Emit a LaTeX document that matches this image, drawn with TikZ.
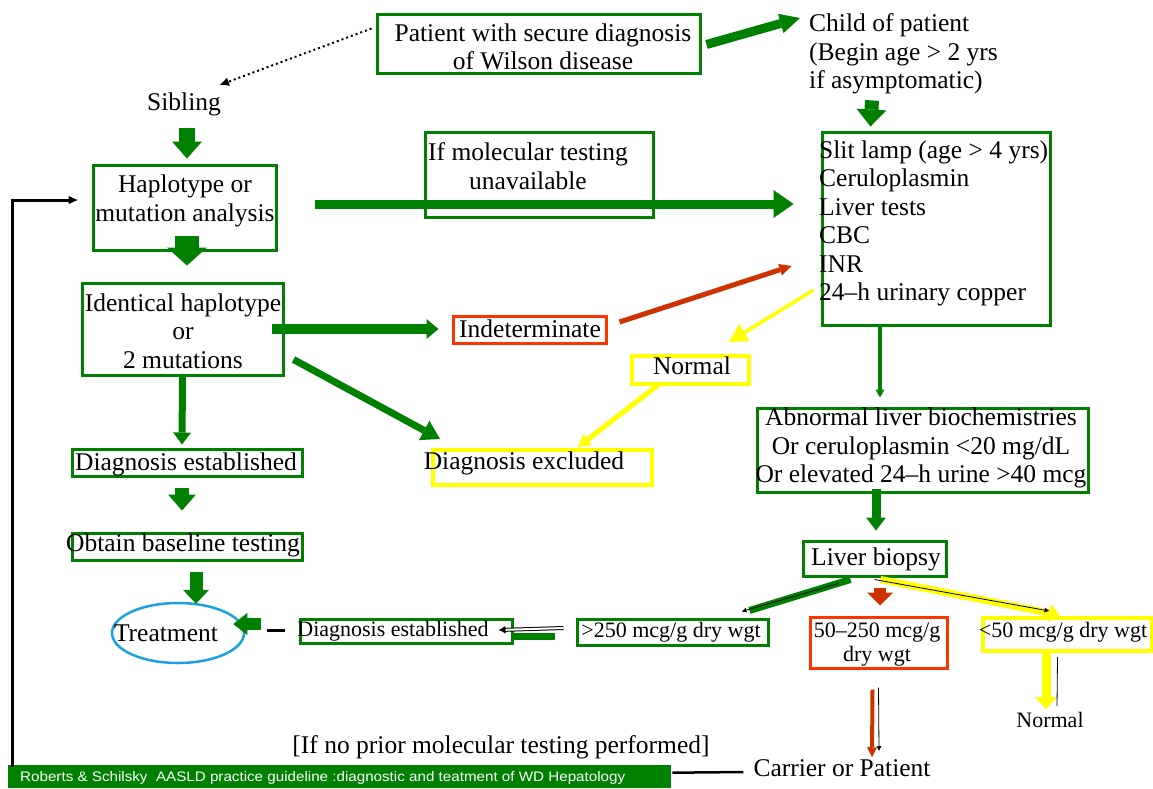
\documentclass[tikz,border=0pt]{standalone}
\usepackage{fontspec}
\usepackage{graphicx}
\setmainfont{Liberation Serif}
\setsansfont{Liberation Sans}
\usetikzlibrary{arrows.meta,calc,shapes.geometric}
\definecolor{wgreen}{RGB}{0,128,0}
\definecolor{wred}{RGB}{204,51,0}
\definecolor{wored}{RGB}{255,51,0}
\definecolor{wyellow}{RGB}{255,255,0}
\definecolor{wcyan}{RGB}{27,161,226}
\newcommand\bigtxt{\fontsize{25.5pt}{28.5pt}\selectfont}
\newcommand\midtxt{\fontsize{22pt}{24pt}\selectfont}
\begin{document}
\begin{tikzpicture}[x=1pt,y=-1pt,
  box/.style n args={3}{draw=#1, line width=3pt, minimum width=#2, minimum height=#3, inner sep=0pt},
  txt/.style={font=\bigtxt, inner sep=0pt},
  stxt/.style={font=\midtxt, inner sep=0pt},
  blockarrow/.style n args={3}{line width=#1, -{Triangle[width=#2,length=#3,line width'=0pt]}},
  thinarrow/.style={black, line width=0.8pt, -{Latex[length=5pt,width=5pt]}}
]
\path[use as bounding box] (0,0) rectangle (1153,788);

% ---------- boxes ----------
\node[box={wgreen}{323pt}{59pt}] (patientbox) at (538.5,43.5) {};
\node[box={wgreen}{183pt}{85pt}] (hapbox) at (184.5,207.5) {};
\node[box={wgreen}{228pt}{85pt}] (ifmolbox) at (539,174.5) {};
\node[box={wgreen}{228pt}{193pt}] (slitbox) at (936,228.5) {};
\node[box={wgreen}{201pt}{92pt}] (identbox) at (182.5,329) {};
\node[box={wored}{153pt}{27pt}] (indetbox) at (529.5,329.5) {};
\node[box={wyellow}{117pt}{28pt}, line width=4pt] (normalbox) at (690.5,370) {};
\node[box={wgreen}{331pt}{84pt}] (abnbox) at (922.5,450) {};
\node[box={wgreen}{230pt}{27pt}] (diagestbox) at (187,462.5) {};
\node[box={wyellow}{219pt}{35pt}, line width=4pt] (diagexcbox) at (542.5,467.5) {};
\node[box={wgreen}{230pt}{27pt}] (baselinebox) at (187,546.5) {};
\node[draw=wcyan, line width=2.5pt, ellipse, minimum width=132pt, minimum height=60pt, inner sep=0pt] (treat) at (178,633) {};
\node[box={wgreen}{212pt}{24pt}] (diagesttwobox) at (406,631) {};
\node[box={wgreen}{191pt}{26pt}] (gtbox) at (672.5,632) {};
\node[box={wgreen}{143pt}{35pt}] (biopsybox) at (874.5,558.5) {};
\node[box={wored}{137pt}{51pt}] (midbox) at (878.5,642.5) {};
\node[box={wyellow}{169pt}{33pt}, line width=4pt] (ltbox) at (1067.5,634.5) {};
\node[fill=wgreen, minimum width=663pt, minimum height=23pt, inner sep=0pt, anchor=north west] (footer) at (8,765) {};

% ---------- texts ----------
\node[txt, align=center] (patient) at (543,47) {Patient with secure diagnosis\\of Wilson disease};
\node[txt, align=left, anchor=west] (child) at (809,54) {Child of patient\\(Begin age > 2 yrs\\if asymptomatic)};
\node[txt] (sibling) at (184,104) {Sibling};
\node[txt, align=center] (hap) at (185,201) {Haplotype or\\mutation analysis};
\node[txt, align=center] (ifmol) at (528,166) {If molecular testing\\unavailable};
\node[txt, align=left, anchor=west] (slit) at (819,223.5) {Slit lamp (age > 4 yrs)\\Ceruloplasmin\\Liver tests\\CBC\\INR\\24–h urinary copper};
\node[txt, align=center] (ident) at (183,331) {Identical haplotype\\or\\2 mutations};
\node[txt] (indet) at (530,329) {Indeterminate};
\node[txt] (normal) at (692,366) {Normal};
\node[txt, align=center] (abn) at (921,448) {Abnormal liver biochemistries\\ Or ceruloplasmin <20 mg/dL\\Or elevated 24–h urine >40 mcg};
\node[txt] (diagest) at (186,464) {Diagnosis established};
\node[txt] (diagexc) at (524,463) {Diagnosis excluded};
\node[txt] (baseline) at (183,545) {Obtain baseline testing};
\node[txt] (treattxt) at (166,633) {Treatment};
\node[stxt] (diagesttwo) at (393,631) {Diagnosis established};
\node[stxt] (gt) at (671,632) {>250 mcg/g dry wgt};
\node[txt] (biopsy) at (876,559) {Liver biopsy};
\node[stxt, align=center] (mid) at (877,645) {50–250 mcg/g\\dry wgt};
\node[stxt] (lt) at (1063,632) {<50 mcg/g dry wgt};
\node[stxt] (normaltwo) at (1050,720) {Normal};
\node[txt] (carrier) at (842,768) {Carrier or Patient};
\node[txt] (noprior) at (501,747) {[If no prior molecular testing performed]};
\node[anchor=west, inner sep=0pt, text=white] (footertxt) at (20,778)
  {\resizebox{605pt}{10pt}{\sffamily Roberts \& Schilsky~ AASLD practice guideline :diagnostic and teatment of WD Hepatology}};

% ---------- connectors ----------
% patient -> sibling (dotted)
\draw[line width=2pt, dash pattern=on 2pt off 3pt, -{Latex[length=10pt,width=9pt]}]
  ($(patientbox.west)+(-4,-15)$) -- ($(sibling.north east)+(-2,-7)$);
% patient -> child
\draw[wgreen, blockarrow={9pt}{20pt}{20pt}]
  ($(patientbox.east)+(5,1)$) -- ($(child.west)+(-9,-36)$);
% child -> slit
\draw[wgreen, blockarrow={14pt}{30pt}{17pt}]
  ($(child.south west)+(63,6)$) -- ($(slitbox.north west)+(50,-4)$);
% sibling -> hap
\draw[wgreen, blockarrow={16pt}{30pt}{17pt}]
  ($(sibling.south)+(3,12)$) -- ($(hapbox.north)+(2.5,-5)$);
% hap -> slit (if molecular testing unavailable)
\draw[wgreen, blockarrow={9pt}{28pt}{20pt}]
  ($(hapbox.east)+(37,-3.5)$) -- ($(slitbox.west)+(-27,-24.5)$);
% hap -> ident
\draw[wgreen, blockarrow={24pt}{40pt}{18pt}]
  ($(hapbox.south)+(2.5,-16)$) -- ($(identbox.north)+(4.5,-16)$);
% ident -> indet
\draw[wgreen, blockarrow={10pt}{20pt}{12pt}]
  ($(identbox.east)+(-13,0)$) -- ($(indetbox.west)+(-13,-0.5)$);
% indet -> slit
\draw[wred, blockarrow={5pt}{12pt}{12pt}]
  ($(indetbox.east)+(12,-7.5)$) -- ($(slitbox.west)+(-29,37.5)$);
% slit -> normal
\draw[wyellow, blockarrow={3.5pt}{20pt}{18pt}]
  ($(slitbox.west)+(-7,61.5)$) -- ($(normalbox.north east)+(-22,-12)$);
% slit -> abnormal
\draw[wgreen, blockarrow={4pt}{9pt}{8pt}]
  ($(slitbox.south)+(-56,0)$) -- ($(abnbox.north)+(-42.5,-9)$);
% abnormal -> biopsy
\draw[wgreen, blockarrow={9pt}{20pt}{13pt}]
  ($(abnbox.south)+(-46.5,-5)$) -- ($(biopsybox.north)+(1.5,-9)$);
% normal -> diagnosis excluded
\draw[wyellow, blockarrow={5pt}{14pt}{12pt}]
  ($(normalbox.south west)+(28,-1)$) -- ($(diagexcbox.north)+(35.5,-1)$);
% ident -> diagnosis excluded
\draw[wgreen, blockarrow={7pt}{22pt}{18pt}]
  ($(identbox.south east)+(9,-17)$) -- ($(diagexcbox.north west)+(9,-9)$);
% ident -> diagnosis established
\draw[wgreen, blockarrow={7pt}{18pt}{12pt}]
  (identbox.south) -- ($(diagestbox.north)+(-5,-3)$);
% diagnosis established -> baseline
\draw[wgreen, blockarrow={14pt}{28pt}{16pt}]
  ($(diagestbox.south)+(-5,10)$) -- ($(baselinebox.north)+(-5,-21)$);
% baseline -> treatment
\draw[wgreen, blockarrow={13pt}{26pt}{14pt}]
  ($(baselinebox.south)+(9,10)$) -- ($(treat.north)+(18,2)$);
% diagnosis established (2) -> treatment
\draw[wgreen, blockarrow={12pt}{22pt}{14pt}]
  ($(diagesttwobox.west)+(-38,-7)$) -- ($(treat.east)+(-12,-9)$);
\draw[line width=3pt] ($(diagesttwobox.west)+(-14,-1)$) -- ($(diagesttwobox.west)+(-32,-1)$);
% >250 -> diagnosis established (2)
\draw[wgreen, line width=7pt] ($(diagesttwobox.east)+(0,5)$) -- ($(gtbox.west)+(-21,4)$);
\draw[double, line width=1pt, double distance=2pt, -{Latex[length=7pt,width=8pt]}]
  ($(gtbox.west)+(-12,-4)$) -- ($(diagesttwobox.east)+(-15,-1)$);
% biopsy -> >250
\draw[wgreen, line width=7pt] ($(biopsybox.south)+(-24,2)$) -- ($(gtbox.north east)+(-20,-7)$);
\draw[thinarrow] ($(biopsybox.south)+(-36,6)$) -- ($(gtbox.north east)+(-28,-6)$);
% biopsy -> 50-250
\draw[wred, blockarrow={12pt}{26pt}{13pt}]
  ($(biopsybox.south)+(5.5,10)$) -- ($(midbox.north)+(1.5,-10)$);
% biopsy -> <50
\draw[wyellow, blockarrow={7pt}{18pt}{10pt}]
  ($(biopsybox.south)+(6,2)$) -- ($(ltbox.north)+(-8,-1)$);
\draw[thinarrow] ($(biopsybox.south)+(0,2)$) -- ($(ltbox.north)+(-18,-5)$);
% <50 -> normal
\draw[wyellow, blockarrow={9pt}{22pt}{12pt}]
  ($(ltbox.south)+(-21.5,0)$) -- ($(normaltwo.north)+(-4,-3)$);
\draw[black, line width=0.8pt] ($(ltbox.south)+(-10,4)$) -- ($(normaltwo.north)+(7,-6)$);
% 50-250 -> carrier
\draw[wred, blockarrow={4pt}{10pt}{10pt}]
  ($(midbox.south)+(-6,20)$) -- ($(carrier.north)+(30,-2)$);
\draw[thinarrow] ($(midbox.south)+(0,18)$) -- ($(carrier.north)+(37,-8)$);
% footer -> carrier
\draw[line width=2.5pt] ($(footer.east)+(1,-4)$) -- ($(carrier.west)+(-10,4)$);
% loop back to haplotype analysis
\draw[line width=3pt, -{Latex[length=10pt,width=9pt]}]
  ($(footer.north west)+(4,2)$) |- ($(hapbox.west)+(-13,-7.5)$);
\end{tikzpicture}
\end{document}
